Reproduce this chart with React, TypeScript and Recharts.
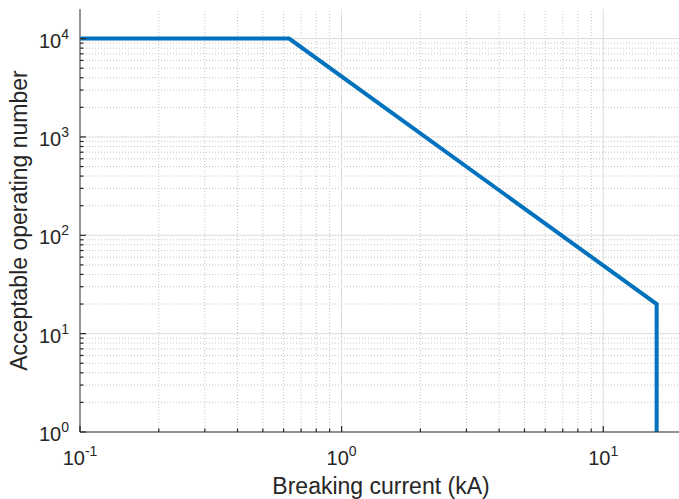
import { LineChart, Line, XAxis, YAxis, ReferenceLine } from "recharts";

// breaking current (kA) vs acceptable number of operations
const current = [0.1, 0.63, 16, 16];
const operations = [10000, 10000, 20, 1];

const xMajorTicks = [0.1, 1, 10];
const xTickExponents = ["-1", "0", "1"];
const xMinorTicks = [0.2, 0.3, 0.4, 0.5, 0.6, 0.7, 0.8, 0.9, 2, 3, 4, 5, 6, 7, 8, 9];

const yMajorTicks = [1, 10, 100, 1000, 10000];
const yTickExponents = ["0", "1", "2", "3", "4"];
const yMinorTicks = [
  2, 3, 4, 5, 6, 7, 8, 9,
  20, 30, 40, 50, 60, 70, 80, 90,
  200, 300, 400, 500, 600, 700, 800, 900,
  2000, 3000, 4000, 5000, 6000, 7000, 8000, 9000,
];

const data = current.map((c, i) => ({ current: c, operations: operations[i] }));

const FONT = '"Liberation Sans", Arial, Helvetica, sans-serif';
const TEXT = "#262626";
const MAJOR_LEN = 6;
const MINOR_LEN = 3.5;

function BottomTick({ x, y, payload }: any) {
  const idx = xMajorTicks.indexOf(payload.value);
  const major = idx >= 0;
  return (
    <g>
      <line x1={x} y1={y} x2={x} y2={y - (major ? MAJOR_LEN : MINOR_LEN)} stroke={TEXT} strokeWidth={1.2} />
      {major && (
        <text x={x} y={y + 33} textAnchor="middle" fontFamily={FONT} fontSize={20} fill={TEXT}>
          10
          <tspan dy={-9} fontSize={14}>
            {xTickExponents[idx]}
          </tspan>
        </text>
      )}
    </g>
  );
}

function TopTick({ x, y, payload }: any) {
  const major = xMajorTicks.includes(payload.value);
  return <line x1={x} y1={y} x2={x} y2={y + (major ? MAJOR_LEN : MINOR_LEN)} stroke={TEXT} strokeWidth={1.2} />;
}

function LeftTick({ x, y, payload }: any) {
  const idx = yMajorTicks.indexOf(payload.value);
  const major = idx >= 0;
  return (
    <g>
      <line x1={x} y1={y} x2={x + (major ? MAJOR_LEN : MINOR_LEN)} y2={y} stroke={TEXT} strokeWidth={1.2} />
      {major && (
        <text x={x - 11} y={y + 9} textAnchor="end" fontFamily={FONT} fontSize={20} fill={TEXT}>
          10
          <tspan dy={-9} fontSize={14}>
            {yTickExponents[idx]}
          </tspan>
        </text>
      )}
    </g>
  );
}

function RightTick({ x, y, payload }: any) {
  const major = yMajorTicks.includes(payload.value);
  return <line x1={x} y1={y} x2={x - (major ? MAJOR_LEN : MINOR_LEN)} y2={y} stroke={TEXT} strokeWidth={1.2} />;
}

function YTitle({ viewBox }: any) {
  const { x, y, height } = viewBox;
  return (
    <text
      transform={`translate(${x + 27},${y + height / 2}) rotate(-90)`}
      textAnchor="middle"
      fontFamily={FONT}
      fontSize={23}
      fill={TEXT}
    >
      Acceptable operating number
    </text>
  );
}

export default function App() {
  const xTicks = [...xMajorTicks, ...xMinorTicks];
  const yTicks = [...yMajorTicks, ...yMinorTicks];
  return (
    <div
      style={{
        position: "absolute",
        left: 0,
        top: 0,
        width: 679,
        height: 499,
        overflow: "hidden",
        background: "#fff",
      }}
    >
      <LineChart width={690} height={499} data={data} margin={{ top: 9, right: 8, bottom: 0, left: 0 }}>
        {xMinorTicks.map((v) => (
          <ReferenceLine key={"xm" + v} x={v} stroke="#c4c4c4" strokeDasharray="1 2" />
        ))}
        {yMinorTicks.map((v) => (
          <ReferenceLine key={"ym" + v} y={v} stroke="#c4c4c4" strokeDasharray="1 2" />
        ))}
        {xMajorTicks.map((v) => (
          <ReferenceLine key={"xM" + v} x={v} stroke="#dcdcdc" />
        ))}
        {yMajorTicks.map((v) => (
          <ReferenceLine key={"yM" + v} y={v} stroke="#dcdcdc" />
        ))}
        <XAxis
          dataKey="current"
          type="number"
          scale="log"
          domain={[0.1, 20]}
          allowDataOverflow
          ticks={xTicks}
          interval={0}
          tickSize={0}
          tickMargin={0}
          tickLine={false}
          tick={<BottomTick />}
          height={67}
          axisLine={{ stroke: "#333", strokeWidth: 1.2 }}
          label={{
            value: "Breaking current (kA)",
            position: "insideBottom",
            offset: 5,
            fontSize: 23,
            fontFamily: FONT,
            fill: TEXT,
          }}
        />
        <XAxis
          xAxisId="top"
          orientation="top"
          type="number"
          scale="log"
          domain={[0.1, 20]}
          allowDataOverflow
          ticks={xTicks}
          interval={0}
          tickSize={0}
          tickMargin={0}
          tickLine={false}
          tick={<TopTick />}
          height={0}
          axisLine={{ stroke: "#777", strokeWidth: 1.5 }}
        />
        <YAxis
          type="number"
          scale="log"
          domain={[1, 20000]}
          allowDataOverflow
          ticks={yTicks}
          interval={0}
          tickSize={0}
          tickMargin={0}
          tickLine={false}
          tick={<LeftTick />}
          width={80}
          axisLine={{ stroke: "#777", strokeWidth: 1.5 }}
          label={YTitle}
        />
        <YAxis
          yAxisId="right"
          orientation="right"
          type="number"
          scale="log"
          domain={[1, 20000]}
          allowDataOverflow
          ticks={yTicks}
          interval={0}
          tickSize={0}
          tickMargin={0}
          tickLine={false}
          tick={<RightTick />}
          width={0}
          axisLine={{ stroke: "#777", strokeWidth: 1.5 }}
        />
        <Line
          dataKey="operations"
          type="linear"
          stroke="#0072BD"
          strokeWidth={4}
          dot={false}
          activeDot={false}
          isAnimationActive={false}
        />
      </LineChart>
    </div>
  );
}
